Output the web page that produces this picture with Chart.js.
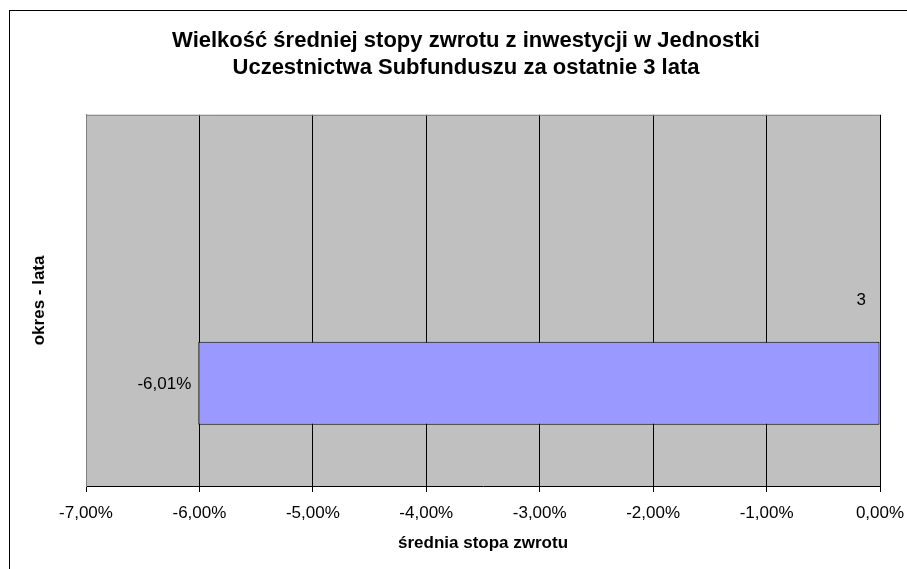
<!DOCTYPE html>
<html>
<head>
<meta charset="utf-8">
<script src="https://cdn.jsdelivr.net/npm/chart.js@4"></script>
<style>
    body { margin: 0; background: #fff; overflow: hidden; }
    #box { position: absolute; left: 9px; top: 10px; width: 912px; height: 580px; border: 1px solid #000; }
</style>
</head>
<body>
<div id="box"><canvas id="returnChart"></canvas></div>
<script>
// Chart data (the sheet had two empty series next to the one with a value)
const categories = ['3'];
const emptySeriesA = [null];
const emptySeriesB = [null];
const returnValues = [-6.01];
const axisMin = -7;
const axisMax = 0;
const axisStep = 1;

const FONT = "'Liberation Sans', Arial, sans-serif";

function formatPercent(v) {
    return Number(v).toFixed(2).replace('.', ',') + '%';
}

// Gray plot background, top edge and the text labels
const plotDecor = {
    id: 'plotDecor',
    beforeDraw(chart) {
        const { ctx, chartArea: a } = chart;
        ctx.save();
        ctx.fillStyle = '#C0C0C0';
        ctx.fillRect(a.left, a.top, a.right - a.left, a.bottom - a.top);
        ctx.restore();
    },
    afterDatasetsDraw(chart) {
        const { ctx, chartArea: a, scales } = chart;
        ctx.save();
        ctx.strokeStyle = '#808080';
        ctx.lineWidth = 1;
        ctx.beginPath();
        ctx.moveTo(a.left, a.top + 0.5);
        ctx.lineTo(a.right, a.top + 0.5);
        ctx.stroke();

        ctx.fillStyle = '#000';
        ctx.font = '17px ' + FONT;
        ctx.textBaseline = 'middle';
        ctx.textAlign = 'right';

        // category label next to the 0 axis
        categories.forEach((c, i) => {
            ctx.fillText(c, scales.x.getPixelForValue(0) - 14, scales.y.getPixelForValue(i));
        });

        // value labels left of the bars
        const meta = chart.getDatasetMeta(2);
        meta.data.forEach((bar, i) => {
            const v = returnValues[i];
            if (v == null) return;
            ctx.fillText(formatPercent(v), bar.x - 7, bar.y + 1);
        });
        ctx.restore();
    }
};

new Chart(document.getElementById('returnChart').getContext('2d'), {
    type: 'bar',
    data: {
        labels: categories,
        datasets: [
            { label: 'seria 1', data: emptySeriesA, backgroundColor: '#9999FF' },
            { label: 'seria 2', data: emptySeriesB, backgroundColor: '#9999FF' },
            {
                label: 'średnia stopa zwrotu',
                data: returnValues,
                backgroundColor: '#9999FF',
                borderColor: '#000',
                borderWidth: 1,
                borderSkipped: false
            }
        ]
    },
    options: {
        indexAxis: 'y',
        responsive: true,
        maintainAspectRatio: false,
        animation: false,
        categoryPercentage: 0.67,
        barPercentage: 1.0,
        layout: { padding: { top: 0, left: 0, right: 0, bottom: 34 } },
        plugins: {
            legend: { display: false },
            tooltip: { enabled: false },
            title: {
                display: true,
                text: ['Wielkość średniej stopy zwrotu z inwestycji w Jednostki', 'Uczestnictwa Subfunduszu za ostatnie 3 lata'],
                color: '#000',
                font: { family: FONT, size: 22, weight: 'bold', lineHeight: 1.2 },
                padding: { top: 17, bottom: 34 }
            }
        },
        scales: {
            x: {
                type: 'linear',
                min: axisMin,
                max: axisMax,
                afterFit: s => { s.height = 71; },
                ticks: {
                    stepSize: axisStep,
                    color: '#000',
                    padding: 11,
                    font: { family: FONT, size: 17 },
                    callback: v => formatPercent(v)
                },
                grid: {
                    color: ctx => ctx.index === 0 ? '#808080' : '#000',
                    tickColor: '#000',
                    tickLength: 6,
                    lineWidth: 1
                },
                border: { color: '#000' },
                title: {
                    display: true,
                    text: 'średnia stopa zwrotu',
                    color: '#000',
                    font: { family: FONT, size: 17, weight: 'bold' },
                    padding: { top: 4, bottom: 3 }
                }
            },
            y: {
                type: 'category',
                position: 'left',
                afterFit: s => { s.width = 76; },
                ticks: { display: false },
                grid: { display: false },
                border: { color: '#808080' },
                title: {
                    display: true,
                    text: 'okres - lata',
                    color: '#000',
                    font: { family: FONT, size: 17, weight: 'bold' },
                    padding: { top: 19, bottom: 0 }
                }
            },
            yRight: {
                type: 'category',
                position: 'right',
                afterFit: s => { s.width = 42; },
                ticks: { display: false },
                grid: { display: false },
                border: { display: false }
            }
        }
    },
    plugins: [plotDecor]
});
</script>
</body>
</html>
